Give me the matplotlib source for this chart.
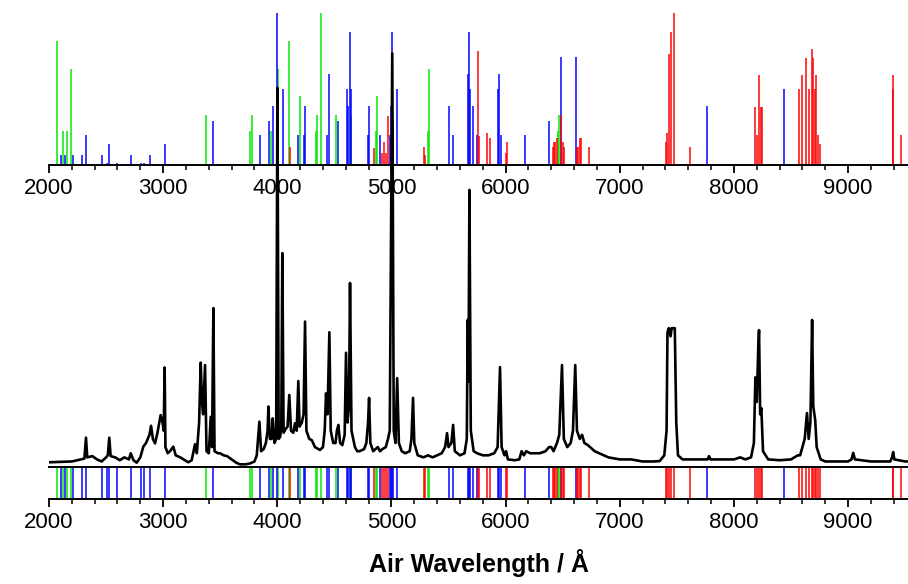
import numpy as np
import matplotlib
matplotlib.use("Agg")
import matplotlib.pyplot as plt
from matplotlib.ticker import MultipleLocator

plt.rcParams['font.family'] = ['Liberation Sans', 'DejaVu Sans']

# measured spectrum (wavelength in A, relative intensity)
spec_wl = [2000, 2100, 2200, 2280, 2310, 2324, 2335, 2380, 2420, 2462, 2500, 2515, 2528, 2540,
           2580, 2620, 2660, 2700, 2716, 2740, 2768, 2800, 2826, 2850, 2880, 2894, 2910, 2929,
           2950, 2970, 2978, 2995, 3005, 3013, 3020, 3040, 3060, 3089, 3110, 3150, 3190, 3220,
           3250, 3279, 3295, 3315, 3329, 3340, 3350, 3367, 3380, 3400, 3417, 3428, 3440, 3450,
           3480, 3498, 3530, 3560, 3600, 3640, 3673, 3720, 3760, 3800, 3820, 3843, 3858, 3880,
           3900, 3915, 3922, 3935, 3950, 3960, 3975, 3990, 4001, 4012, 4025, 4035, 4044, 4055,
           4075, 4090, 4105, 4120, 4140, 4155, 4170, 4184, 4195, 4215, 4230, 4243, 4255, 4280,
           4302, 4330, 4374, 4400, 4415, 4427, 4440, 4456, 4468, 4490, 4510, 4522, 4535, 4550,
           4570, 4590, 4602, 4615, 4628, 4637, 4650, 4680, 4700, 4720, 4760, 4780, 4795, 4804,
           4815, 4840, 4860, 4880, 4900, 4920, 4950, 4970, 4985, 5007, 5020, 5035, 5050, 5065,
           5090, 5120, 5160, 5175, 5189, 5200, 5230, 5280, 5320, 5360, 5400, 5440, 5470, 5487,
           5500, 5525, 5540, 5555, 5600, 5640, 5660, 5668, 5675, 5683, 5695, 5720, 5750, 5800,
           5850, 5900, 5930, 5951, 5965, 5990, 6004, 6020, 6080, 6120, 6140, 6160, 6180, 6215,
           6250, 6300, 6350, 6380, 6400, 6420, 6450, 6470, 6494, 6510, 6540, 6570, 6590, 6610,
           6625, 6650, 6670, 6690, 6720, 6740, 6780, 6820, 6860, 6900, 7000, 7100, 7200, 7300,
           7350, 7390, 7410, 7418, 7430, 7445, 7455, 7470, 7482, 7495, 7510, 7550, 7600, 7700,
           7770, 7782, 7795, 7900, 8000, 8055, 8100, 8150, 8175, 8188, 8200, 8213, 8220, 8230,
           8240, 8255, 8300, 8400, 8500, 8560, 8580, 8600, 8620, 8640, 8655, 8670, 8685, 8695,
           8712, 8725, 8760, 8800, 8900, 9000, 9030, 9045, 9060, 9200, 9370, 9385, 9395, 9405,
           9500, 9525]
spec_int = [0.3, 0.4, 0.5, 1.0, 1.2, 6.3, 1.5, 1.8, 1.0, 0.5, 1.5, 2.0, 6.3, 1.8,
            1.5, 0.8, 1.5, 1.0, 2.5, 0.8, 0.2, 1.5, 4.1, 5.0, 7.0, 9.2, 6.0, 4.9,
            7.5, 10.5, 11.8, 10.0, 8.0, 23.4, 4.0, 2.5, 3.0, 4.1, 2.0, 1.5, 0.8, 0.3,
            0.8, 4.7, 2.5, 10.0, 24.6, 15.0, 12.0, 24.0, 3.0, 2.5, 11.4, 4.0, 37.9, 3.0,
            2.5, 2.5, 2.0, 1.8, 1.0, 0.2, -0.2, -0.2, 0.0, 0.5, 2.0, 10.2, 3.0, 3.5,
            5.0, 8.0, 13.9, 6.0, 6.0, 11.0, 5.0, 6.0, 91.6, 6.0, 6.5, 9.0, 51.3, 7.5,
            8.5, 9.0, 16.7, 8.0, 7.5, 9.8, 8.0, 20.1, 9.0, 10.0, 12.0, 34.6, 8.0, 6.0,
            5.7, 4.0, 3.3, 4.0, 8.0, 17.1, 12.0, 32.0, 8.0, 5.0, 5.0, 8.0, 9.4, 5.0,
            4.5, 7.0, 27.0, 10.0, 14.0, 44.0, 8.0, 4.0, 3.0, 3.0, 3.5, 5.0, 10.0, 16.0,
            5.0, 3.0, 3.5, 4.0, 3.0, 3.5, 4.0, 6.0, 8.0, 100.0, 8.0, 5.0, 20.8, 5.0,
            3.0, 2.5, 3.0, 6.0, 16.0, 5.0, 2.0, 1.5, 2.0, 1.5, 2.0, 2.5, 4.0, 7.4,
            4.0, 5.0, 9.4, 3.0, 2.0, 2.5, 6.0, 35.0, 20.0, 66.7, 8.0, 3.0, 2.5, 2.0,
            2.0, 2.5, 4.0, 23.5, 4.0, 2.0, 3.0, 1.0, 0.8, 1.0, 3.0, 2.0, 3.0, 2.5,
            2.5, 2.5, 3.0, 4.0, 4.0, 3.0, 5.0, 7.0, 24.0, 6.0, 4.0, 5.0, 8.0, 24.0,
            8.0, 6.0, 7.0, 5.0, 4.5, 4.0, 3.0, 2.5, 2.0, 1.5, 1.0, 1.0, 0.5, 0.5,
            0.6, 2.0, 8.0, 32.0, 33.0, 31.0, 33.0, 33.0, 33.0, 10.0, 2.0, 1.0, 1.0, 1.0,
            1.0, 1.8, 1.0, 1.0, 1.0, 1.5, 1.0, 1.5, 5.0, 21.0, 15.0, 28.0, 32.5, 12.0,
            13.5, 3.0, 1.0, 0.8, 1.0, 2.0, 2.0, 4.0, 6.0, 12.3, 6.0, 10.0, 35.0, 14.0,
            10.6, 4.0, 1.0, 0.5, 0.5, 0.5, 1.0, 2.6, 1.0, 0.5, 0.5, 1.5, 2.8, 1.0,
            0.5, 0.5]

# line lists (position in A, relative strength)
green_pos = [2067, 2120, 2155, 2193, 3373, 3761, 3776, 3942, 4009, 4103, 4202, 4342, 4351,
             4383, 4514, 4643, 4862, 4870, 5318, 5326, 6459, 6471]
green_h = [0.815, 0.22, 0.22, 0.63, 0.33, 0.22, 0.33, 0.22, 0.63, 0.815, 0.45, 0.22, 0.33,
           1.0, 0.33, 0.33, 0.22, 0.45, 0.22, 0.63, 0.22, 0.33]

blue_pos = [2102, 2140, 2207, 2292, 2321, 2461, 2505, 2523, 2599, 2715, 2803, 2830, 2888,
            3013, 3440, 3845, 3924, 3960, 4001, 4047, 4184, 4234, 4245, 4436, 4450, 4535,
            4608, 4617, 4637, 4649, 4792, 4806, 4900, 4990, 4996, 5008, 5015, 5046, 5501,
            5540, 5668, 5683, 5690, 5718, 5750, 5931, 5943, 5957, 6170, 6381, 6483, 6617,
            7768, 8440]
blue_h = [0.066, 0.066, 0.066, 0.066, 0.2, 0.066, 0.01, 0.14, 0.01, 0.066, 0.01, 0.01, 0.066,
          0.14, 0.29, 0.2, 0.29, 0.39, 1.0, 0.5, 0.2, 0.2, 0.39, 0.2, 0.6, 0.29,
          0.5, 0.39, 0.87, 0.5, 0.2, 0.39, 0.2, 0.2, 0.39, 0.87, 0.29, 0.5, 0.39,
          0.2, 0.6, 0.87, 0.5, 0.39, 0.2, 0.5, 0.6, 0.2, 0.2, 0.29, 0.71, 0.71,
          0.39, 0.5]

red_pos = [4112, 4850, 4920, 4938, 4950, 4967, 5285, 5297, 5759, 5768, 5835, 5864, 6004,
           6012, 6412, 6424, 6436, 6447, 6483, 6500, 6512, 6623, 6638, 6652, 6664, 6728,
           7403, 7412, 7429, 7447, 7476, 7613, 8188, 8200, 8217, 8235, 8250, 8571, 8597,
           8629, 8661, 8682, 8691, 8706, 8717, 8734, 8754, 9391, 9397, 9464]
red_h = [0.12, 0.11, 0.08, 0.15, 0.08, 0.32, 0.12, 0.066, 0.75, 0.19, 0.21, 0.18, 0.08,
         0.15, 0.12, 0.15, 0.15, 0.18, 0.33, 0.15, 0.12, 0.12, 0.12, 0.18, 0.18, 0.12,
         0.15, 0.21, 0.73, 0.87, 1.0, 0.12, 0.38, 0.2, 0.59, 0.38, 0.38, 0.5, 0.59,
         0.7, 0.5, 0.76, 0.7, 0.5, 0.59, 0.2, 0.14, 0.5, 0.59, 0.2]

line_sets = [(green_pos, green_h, '#00e600'), (blue_pos, blue_h, '#0000ff'), (red_pos, red_h, '#ff0000')]

XMIN, XMAX = 2000, 9525
W, H = 908, 584

fig = plt.figure(figsize=(W / 100, H / 100), dpi=100)

def frac(x0, y_top, x1, y_bot):
    return [x0 / W, 1 - y_bot / H, (x1 - x0) / W, (y_bot - y_top) / H]

ax_top = fig.add_axes(frac(49, 12.7, 908, 165))
ax_main = fig.add_axes(frac(49, 0, 908, 467))
ax_bot = fig.add_axes(frac(49, 467, 908, 499))

def style_x(ax):
    ax.set_xlim(XMIN, XMAX)
    ax.xaxis.set_major_locator(MultipleLocator(1000))
    ax.xaxis.set_minor_locator(MultipleLocator(200))
    ax.tick_params(axis='x', which='major', length=6, width=1.3, labelsize=16, pad=3)
    ax.tick_params(axis='x', which='minor', length=3.5, width=1.1)
    ax.set_yticks([])
    for s in ['left', 'right', 'top']:
        ax.spines[s].set_visible(False)
    ax.spines['bottom'].set_linewidth(1.4)

# top stick spectrum
for pos, h, c in line_sets:
    ax_top.vlines(pos, 0, h, colors=c, linewidth=1.2, alpha=0.9)
ax_top.set_ylim(0, 1.0)
style_x(ax_top)
ax_top.patch.set_alpha(0)

# bottom strip
for pos, h, c in line_sets:
    ax_bot.vlines(pos, 0, 1, colors=c, linewidth=1.2, alpha=0.9)
ax_bot.set_ylim(0, 1)
style_x(ax_bot)
ax_bot.spines['top'].set_visible(True)
ax_bot.spines['top'].set_linewidth(1.4)
ax_bot.set_xlabel('Air Wavelength / Å', fontsize=18, fontweight='bold', labelpad=12)

# measured spectrum
ax_main.plot(spec_wl, spec_int, color='black', linewidth=1.9, solid_joinstyle='round')
ax_main.set_xlim(XMIN, XMAX)
ax_main.set_ylim(-0.85, 113)
ax_main.axis('off')
ax_main.set_zorder(3)
ax_main.patch.set_alpha(0)

fig.savefig('out.png', dpi=100)
